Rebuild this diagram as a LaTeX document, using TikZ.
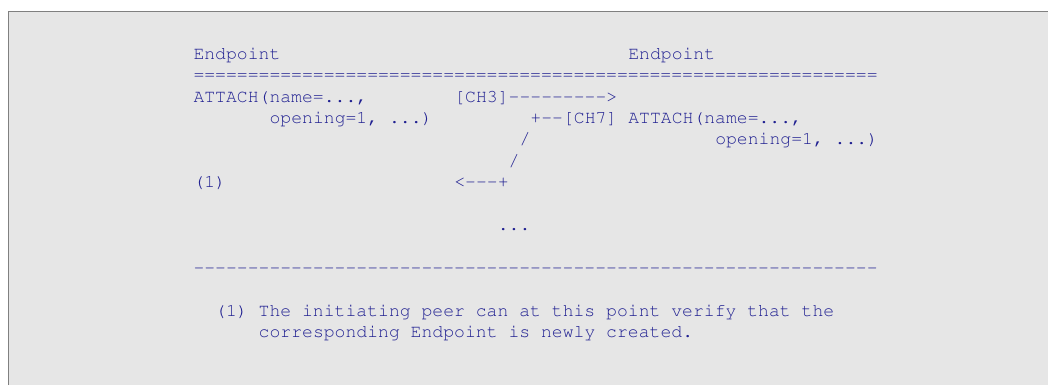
\documentclass[tikz,border=0pt]{standalone}
\usepackage[T1,TU]{fontenc}
\definecolor{artblue}{RGB}{32,32,145}
\definecolor{panelfill}{RGB}{230,230,230}
\definecolor{panelrule}{RGB}{128,128,128}
% monospaced grid: column pitch and line pitch of the listing
\newcommand{\colw}{10.87}
\newcommand{\rowh}{21.4}
\newcommand{\xorig}{193.5}
\newcommand{\yorig}{59.3}
% repeat a character, each copy boxed so no ligatures form
\newcount\repcnt
\newcommand{\reps}[2]{\repcnt=0 \loop\ifnum\repcnt<#1\relax\mbox{#2}\advance\repcnt by 1 \repeat}
\newcommand{\courierfont}{\fontencoding{T1}\fontfamily{pcr}\fontseries{m}\fontshape{n}\fontsize{18.1}{21.4}\selectfont}
\tikzset{
  art/.style={anchor=base west, inner sep=0pt, outer sep=0pt,
    text=artblue, font=\courierfont},
}
% place a fragment of the listing at (column, row)
\newcommand{\artat}[4]{\node[art] (#3) at ({\xorig+\colw*#1},{\yorig+\rowh*#2}) {#4};}
\begin{document}
\begin{tikzpicture}[x=1pt,y=-1pt]
\useasboundingbox (0,0) rectangle (1048,385);
\fill[white] (0,0) rectangle (1048,385);
\fill[panelfill] (8.5,11.5) rectangle (1048,385);
\draw[panelrule, line width=1pt] (8.5,385) -- (8.5,11.5) -- (1048,11.5);

% header
\artat{0}{0}{epleft}{Endpoint}
\artat{40}{0}{epright}{Endpoint}
\artat{0}{1}{topsep}{\reps{63}{=}}

% first exchange
\artat{0}{2}{attachleft}{ATTACH(name=...,}
\artat{24}{2}{chthree}{[CH3]\reps{9}{-}>}
\artat{7}{3}{openleft}{opening=1, ...)}
\artat{31}{3}{chseven}{+\reps{2}{-}[CH7]}
\artat{40}{3}{attachright}{ATTACH(name=...,}
\artat{30}{4}{slashone}{/}
\artat{48}{4}{openright}{opening=1, ...)}
\artat{29}{5}{slashtwo}{/}
\artat{0}{6}{noteref}{(1)}
\artat{24}{6}{backarrow}{<\reps{3}{-}+}
\artat{28}{8}{ellipsis}{...}

% footer
\artat{0}{10}{botsep}{\reps{63}{-}}
\artat{2}{12}{noteone}{(1) The initiating peer can at this point verify that the}
\artat{6}{13}{notetwo}{corresponding Endpoint is newly created.}
\end{tikzpicture}
\end{document}
